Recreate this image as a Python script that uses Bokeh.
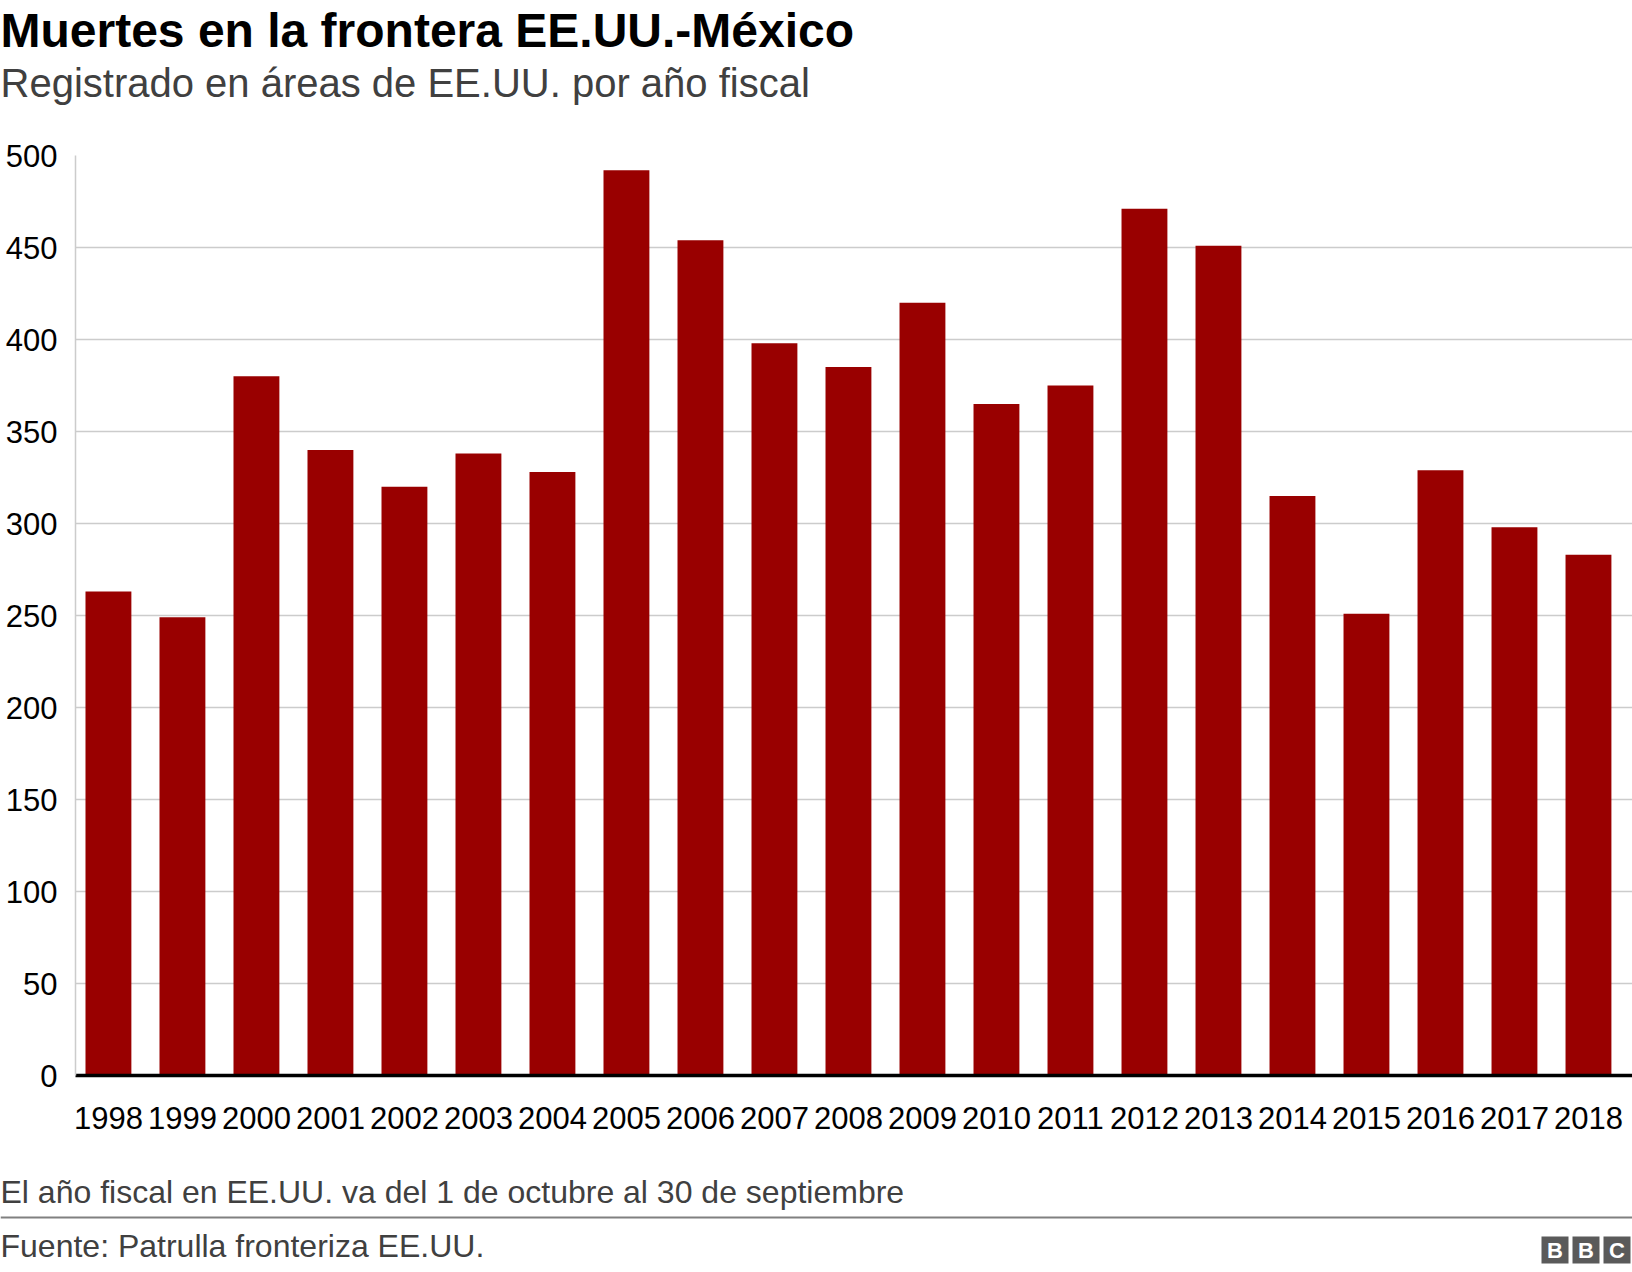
from bokeh.plotting import figure
from bokeh.models import ColumnDataSource, Range1d, FixedTicker
from bokeh.layouts import column
from bokeh.core.properties import value
from bokeh.embed import file_html
from bokeh.resources import INLINE

# ---- data ----
years = [1998, 1999, 2000, 2001, 2002, 2003, 2004, 2005, 2006, 2007, 2008,
         2009, 2010, 2011, 2012, 2013, 2014, 2015, 2016, 2017, 2018]
deaths = [263, 249, 380, 340, 320, 338, 328, 492, 454, 398, 385,
          420, 365, 375, 471, 451, 315, 251, 329, 298, 283]
tick_labels = [str(y) for y in years]
y_ticks = [0, 50, 100, 150, 200, 250, 300, 350, 400, 450, 500]

title_text = "Muertes en la frontera EE.UU.-México"
subtitle_text = "Registrado en áreas de EE.UU. por año fiscal"
note_text = "El año fiscal en EE.UU. va del 1 de octubre al 30 de septiembre"
source_text = "Fuente: Patrulla fronteriza EE.UU."
logo_letters = ["B", "B", "C"]

FONT = "Liberation Sans"
W = 1632
HEAD_H, MAIN_H, FOOT_H = 138, 1012, 122


def panel(h):
    f = figure(width=W, height=h, output_backend="svg", toolbar_location=None,
               x_range=Range1d(0, W), y_range=Range1d(h, 0),
               x_axis_type=None, y_axis_type=None, title=None,
               min_border=0, min_border_left=0, min_border_right=0,
               min_border_top=0, min_border_bottom=0)
    f.outline_line_color = None
    f.background_fill_color = "white"
    f.border_fill_color = "white"
    return f


def txt(f, x, baseline, t, size, color, bold=False, align="left"):
    # text is anchored at its middle; shift from the wanted baseline
    y = [b - 0.35 * size for b in baseline]
    f.text(x=x, y=y, text=t, text_font=value(FONT),
           text_font_size=value(f"{size}px"),
           text_font_style=value("bold" if bold else "normal"),
           text_color=value(color), text_baseline=value("middle"),
           text_align=value(align))


# ---- header ----
head = panel(HEAD_H)
txt(head, [0], [47], [title_text], 48, "#000000", bold=True)
txt(head, [0], [96], [subtitle_text], 40, "#404040")

# ---- main chart ----
src = ColumnDataSource(dict(year=years, deaths=deaths))
p = figure(width=W, height=MAIN_H, output_backend="svg", toolbar_location=None,
           x_range=Range1d(1997.555, 2018.595), y_range=Range1d(0, 500),
           title=None, min_border_left=75, min_border_top=17,
           min_border_bottom=75, min_border_right=0)
p.outline_line_color = None
p.background_fill_color = "white"
p.border_fill_color = "white"

p.vbar(x="year", top="deaths", width=0.62, bottom=0, source=src,
       fill_color="#990000", line_color=None)

xa = p.xaxis[0]
xa.ticker = FixedTicker(ticks=years)
xa.major_label_overrides = {y: l for y, l in zip(years, tick_labels)}
xa.axis_line_color = "black"
xa.axis_line_width = 3.5
xa.major_tick_line_color = None
xa.minor_tick_line_color = None
xa.major_tick_out = 0
xa.major_tick_in = 0
xa.major_label_text_font = FONT
xa.major_label_text_font_size = "31px"
xa.major_label_text_color = "#000000"
xa.major_label_standoff = 31

ya = p.yaxis[0]
ya.ticker = FixedTicker(ticks=y_ticks)
ya.axis_line_color = "#cccccc"
ya.axis_line_width = 1.5
ya.major_tick_line_color = None
ya.minor_tick_line_color = None
ya.major_tick_out = 0
ya.major_tick_in = 0
ya.major_label_text_font = FONT
ya.major_label_text_font_size = "31px"
ya.major_label_text_color = "#000000"
ya.major_label_standoff = 18

p.xgrid.grid_line_color = None
p.ygrid.ticker = FixedTicker(ticks=y_ticks)
p.ygrid.grid_line_color = "#cccccc"
p.ygrid.grid_line_width = 1.5

# ---- footer ----
foot = panel(FOOT_H)
txt(foot, [0], [53], [note_text], 32, "#404040")
foot.quad(left=[0], right=[W], top=[66], bottom=[68],
          fill_color="#808080", line_color=None)
txt(foot, [0], [106.5], [source_text], 32, "#404040")
logo_left = [W - 91 + i * 31 for i in range(3)]
foot.quad(left=logo_left, right=[l + 27 for l in logo_left],
          top=[86] * 3, bottom=[113] * 3, fill_color="#5a5a5a", line_color=None)
txt(foot, [l + 13.5 for l in logo_left], [107.2] * 3, logo_letters,
    22, "#ffffff", bold=True, align="center")

layout = column(column(head), p, column(foot), spacing=0)
open("out.html", "w").write(file_html(layout, INLINE))
